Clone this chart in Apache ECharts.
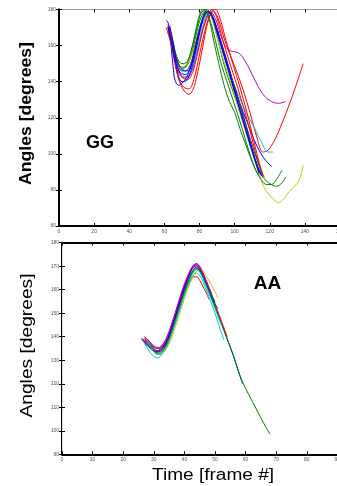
<!DOCTYPE html>
<html>
<head>
<meta charset="utf-8">
<script src="https://cdn.jsdelivr.net/npm/echarts@6/dist/echarts.min.js"></script>
<style>
html,body{margin:0;padding:0;background:#fff;overflow:hidden;width:337px;height:486px;}
#c{width:400px;height:486px;}
</style>
</head>
<body>
<div id="c"></div>
<script>
// ---------- Top panel (GG) ----------
var ggXTicks = [0, 20, 40, 60, 80, 100, 120, 140, 160];
var ggYTicks = [60, 80, 100, 120, 140, 160, 180];
var ggColors = ['#ff0000','#c000c0','#00c8c8','#0000ff','#0000ff','#008000','#008000','#c8c800','#ff0000','#ff0000','#0000ff','#404040','#008000','#0000ff'];
var gg1 = [[62,170],[64,163],[66,152],[68,142],[71,137],[74,136],[77,142],[80,155],[83,168],[86,177],[88,179],[91,174],[94,164],[97,156],[101,146],[105,135],[109,122],[113,108],[116,101],[119,102],[123,108],[127,117],[131,127],[135,138],[139,150]];
var gg2 = [[62,168],[64,162],[66,152],[68,145],[71,142],[74,143],[77,150],[80,162],[83,173],[86,179],[89,175],[92,166],[95,159],[98,157],[102,156],[105,153],[109,146],[113,138],[117,132],[121,129],[125,128],[129,129]];
var gg3 = [[63,168],[65,158],[67,149],[70,143],[73,143],[76,148],[79,159],[82,171],[85,178],[88,175],[91,165],[95,153],[99,140],[102,133],[106,124],[111,115],[116,105],[119,101],[122,101]];
var gg4 = [[62,171],[64,163],[66,152],[68,143],[70,140],[73,141],[76,149],[79,162],[82,174],[85,179],[89,172],[93,160],[97,147],[100,137],[103,128],[107,118],[111,108],[115,100],[118,96],[121,93]];
var gg5 = [[61,174],[62,173],[63,168],[64,158],[65,148],[66,141],[68,138],[70,139],[73,143],[76,152],[79,165],[82,175],[84,179],[87,177],[90,168],[94,155],[98,142],[102,130],[106,117],[110,103],[113,93],[115,88]];
var gg6 = [[64,166],[66,157],[68,150],[70,147],[72,148],[75,156],[78,169],[80,177],[82,180],[85,176],[88,163],[91,150],[94,138],[97,129],[100,123],[103,114],[106,106],[109,98],[112,91],[115,86],[118,83],[121,83],[124,86],[127,91]];
var gg7 = [[63,167],[65,159],[67,152],[70,148],[73,149],[76,157],[79,170],[82,178],[84,180],[87,176],[90,165],[93,153],[96,143],[100,132],[104,120],[108,107],[112,96],[115,89],[118,85],[121,83],[124,82],[127,84],[129,87]];
var gg8 = [[70,150],[72,149],[74,151],[77,159],[80,170],[83,177],[85,179],[88,172],[91,161],[95,148],[99,136],[103,123],[107,110],[111,98],[114,88],[117,81],[120,77],[123,74],[125,73],[128,75],[131,79],[134,82],[136,84],[138,89],[139,94]];
var gg9 = [[61,170],[62,167],[64,160],[66,150],[68,142],[70,137],[72,134],[74,133],[76,135],[78,141],[81,155],[84,170],[87,179],[89,180],[92,174],[95,163],[99,150],[103,137],[107,123],[111,107],[114,95],[116,89]];
var gg10 = [[62,172],[63,170],[65,160],[67,149],[70,143],[73,141],[76,145],[79,156],[82,169],[85,177],[87,180],[90,175],[93,164],[97,151],[101,139],[105,126],[109,112],[112,100],[115,91],[117,87]];
var gg11 = [[62,170],[64,162],[66,152],[69,145],[72,144],[75,148],[78,160],[81,172],[84,179],[87,176],[90,167],[94,154],[98,141],[102,128],[106,115],[110,102],[113,93],[116,87]];
var gg12 = [[64,165],[66,156],[69,148],[72,146],[75,150],[78,162],[81,173],[84,179],[87,177],[90,169],[93,159],[97,146],[101,134],[105,121],[109,108],[113,96],[116,88]];
var gg13 = [[65,162],[67,154],[70,150],[73,151],[76,160],[79,172],[81,178],[83,180],[86,174],[89,163],[92,151],[96,139],[100,127],[104,115],[108,102],[112,91],[115,86]];
var gg14 = [[63,171],[65,162],[67,151],[70,146],[73,146],[76,152],[79,164],[82,175],[85,179],[88,175],[91,165],[95,152],[99,138],[103,124],[107,111],[111,98],[114,89]];
var ggCurves = [gg1,gg2,gg3,gg4,gg5,gg6,gg7,gg8,gg9,gg10,gg11,gg12,gg13,gg14];

// ---------- Bottom panel (AA) ----------
var aaXTicks = [0, 10, 20, 30, 40, 50, 60, 70, 80, 90];
var aaYTicks = [90, 100, 110, 120, 130, 140, 150, 160, 170, 180];
var aaColors = ['#0000ff','#008000','#ff0000','#ff0000','#00c8c8','#c8c800','#c000c0','#404040','#0000ff','#008000','#c000c0','#00c8c8'];
var aa1 = [[26,139.5],[28,136.5],[30,134.5],[31,134],[32,134.5],[34,138],[36,145],[38,153],[40,161],[42,168],[43,170.5],[44,171],[45,169.5],[46,167],[48,160],[50,153],[52,146],[54,139],[56,132],[58,124],[59,120]];
var aa2 = [[27,139],[29,135.5],[31,133.5],[32,133.5],[34,136.5],[36,143],[38,151],[40,159],[42,166],[43,168.5],[44,169.5],[45,168.5],[46,166],[48,159.5],[50,152.5],[52,146],[54,139],[56,132],[58,124],[60,118],[62,113],[64,108],[66,103],[68,98.5]];
var aa3 = [[27,140],[29,137],[31,135],[32,135],[34,138],[36,144],[38,152],[40,159],[42,164],[43,165.5],[44,165.5],[45,164],[46,161.5],[47,159],[48,156]];
var aa4 = [[27,139.5],[29,136],[31,134],[32,134],[34,137.5],[36,144.5],[38,152.5],[40,160.5],[42,167.5],[43,170],[44,171],[45,170],[46,167.5],[48,161],[50,154],[52,147],[54,140]];
var aa5 = [[27,137],[29,133],[31,131],[32,131.5],[34,135],[36,141.5],[38,149.5],[40,157.5],[42,164],[43,166.5],[44,167],[45,166],[46,163.5],[48,157],[50,150],[52,142],[53,138.5]];
var aa6 = [[28,138],[30,134],[32,132.5],[33,133],[35,137],[37,144],[39,152],[41,160],[43,166],[44,168],[45,168.5],[46,168],[47,166],[48,164],[49.5,160.5],[51,156.5]];
var aa7 = [[26.5,139],[28,137],[30,135.5],[31,135],[32,135.5],[34,139],[36,146],[38,154],[40,162],[42,168],[43,170],[44,170.5],[45,169],[46,166.5],[48,160],[50,155]];
var aa8 = [[28,139],[30,135],[31,134],[32,134],[34,137],[36,143.5],[38,151.5],[40,159.5],[42,166],[43,168.5],[44,169],[45,168],[46,165.5],[48,159],[50,153]];
var aa9 = [[26,139],[28,136],[30,134],[31,133.5],[32,134],[34,137.5],[36,144.5],[38,153],[40,161],[42,167.5],[43,169.5],[44,170],[45,168.5],[46,166],[48,160],[50,154.5]];
var aa10 = [[28,138],[30,134],[31,133],[32,133],[34,136],[36,142.5],[38,150.5],[40,158.5],[42,165.5],[43,168],[44,169],[45,168],[46,165.5],[48,159.5],[50,154],[51,152]];
var aa11 = [[27,140],[29,137.5],[31,135.5],[32,135.5],[34,139],[36,146],[38,154.5],[40,162.5],[42,168.5],[43,170.5],[44,171],[45,169.5],[46,167],[48,161],[49,158]];
var aa12 = [[28,137.5],[30,133.5],[31,132.5],[32,132.5],[34,135.5],[36,142],[38,150],[40,158],[42,165],[43,167.5],[44,168.5],[45,167.5],[46,165],[48,158.5],[50,152],[52,145]];
var aaCurves = [aa1,aa2,aa3,aa4,aa5,aa6,aa7,aa8,aa9,aa10,aa11,aa12];

var FONT = 'Liberation Sans, Arial, sans-serif';
var chart = echarts.init(document.getElementById('c'), null, {renderer:'canvas'});

function mkAxis(gridIndex, ticks, opts) {
  var step = ticks[1] - ticks[0];
  return {
    type: 'value', gridIndex: gridIndex,
    min: ticks[0], max: ticks[ticks.length-1], interval: step,
    axisLine: {show: true, lineStyle: {color: opts.lineColor || '#000', width: opts.lineWidth || 2}},
    axisTick: {show: true, inside: true, length: 3, lineStyle: {color: '#000', width: 1}},
    axisLabel: {show: opts.labels !== false, fontSize: 5, color: '#555', fontFamily: FONT, margin: 3,
      showMaxLabel: true, showMinLabel: true},
    splitLine: {show: false},
    position: opts.position
  };
}

var series = [];
ggCurves.forEach(function(c, i) {
  series.push({type:'line', xAxisIndex:0, yAxisIndex:0, data:c, showSymbol:false, symbol:'none', smooth:0.35,
    lineStyle:{width:1, color:ggColors[i]}, clip:true, z: 2});
});
aaCurves.forEach(function(c, i) {
  series.push({type:'line', xAxisIndex:2, yAxisIndex:2, data:c, showSymbol:false, symbol:'none', smooth:0.35,
    lineStyle:{width:1, color:aaColors[i]}, clip:true, z: 2});
});

var option = {
  animation: false,
  backgroundColor: '#fff',
  grid: [
    {left: 59, top: 9.5, width: 281, height: 216.5},
    {left: 62, top: 242.7, width: 275.4, height: 211.6}
  ],
  xAxis: [
    mkAxis(0, ggXTicks, {position:'bottom'}),
    mkAxis(0, ggXTicks, {position:'top', labels:false, lineColor:'#999', lineWidth:1}),
    mkAxis(1, aaXTicks, {position:'bottom'}),
    mkAxis(1, aaXTicks, {position:'top', labels:false})
  ],
  yAxis: [
    mkAxis(0, ggYTicks, {position:'left'}),
    mkAxis(0, ggYTicks, {position:'right', labels:false}),
    mkAxis(1, aaYTicks, {position:'left'}),
    mkAxis(1, aaYTicks, {position:'right', labels:false, lineColor:'#ddd', lineWidth:1})
  ],
  series: series,
  graphic: [
    {type:'text', x:27, y:113.5, rotation:Math.PI/2, scaleX:1.1, z:10,
      style:{text:'Angles [degrees]', font:'bold 16px ' + FONT, fill:'#000', textAlign:'center', textVerticalAlign:'middle'}},
    {type:'text', x:27.5, y:345.5, rotation:Math.PI/2, scaleX:1.2, z:10,
      style:{text:'Angles [degrees]', font:'16px ' + FONT, fill:'#000', textAlign:'center', textVerticalAlign:'middle'}},
    {type:'text', x:213, y:476, scaleX:1.19, z:10,
      style:{text:'Time [frame #]', font:'16px ' + FONT, fill:'#000', textAlign:'center', textVerticalAlign:'middle'}},
    {type:'text', x:100, y:143.5, z:10,
      style:{text:'GG', font:'bold 18px ' + FONT, fill:'#000', textAlign:'center', textVerticalAlign:'middle'}},
    {type:'text', x:267.5, y:283.5, z:10,
      style:{text:'AA', font:'bold 19px ' + FONT, fill:'#000', textAlign:'center', textVerticalAlign:'middle'}}
  ]
};
chart.setOption(option);
</script>
</body>
</html>
